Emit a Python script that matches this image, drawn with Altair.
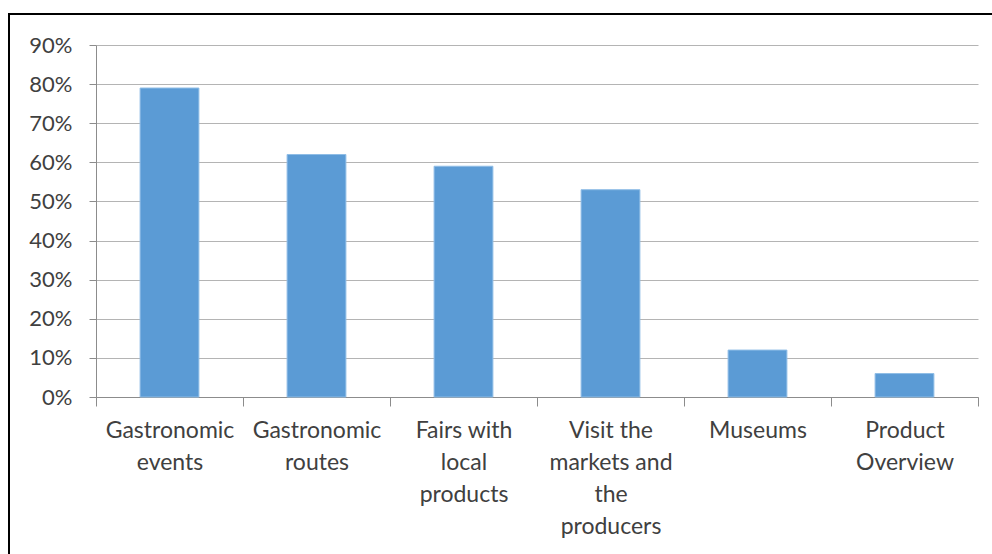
import altair as alt
import pandas as pd

# Activities and the share of respondents choosing each one
categories = [
    "Gastronomic\nevents",
    "Gastronomic\nroutes",
    "Fairs with\nlocal\nproducts",
    "Visit the\nmarkets and\nthe\nproducers",
    "Museums",
    "Product\nOverview",
]
shares = [0.79, 0.62, 0.59, 0.53, 0.12, 0.06]
y_ticks = [0.0, 0.1, 0.2, 0.3, 0.4, 0.5, 0.6, 0.7, 0.8, 0.9]

df = pd.DataFrame({"activity": categories, "share": shares})

FONT = "Lato"
TEXT = "#404040"
AXIS_GRAY = "#8c8c8c"
GRID_GRAY = "#b4b4b4"
BAR_BLUE = "#5b9bd5"

W, H = 882, 352

x_enc = alt.X(
    "activity:N",
    sort=categories,
    scale=alt.Scale(paddingInner=0, paddingOuter=0),
    axis=alt.Axis(
        title=None,
        labelAngle=0,
        labelExpr="split(datum.label, '\\n')",
        labelFont=FONT,
        labelFontSize=23,
        labelColor=TEXT,
        labelLineHeight=32,
        labelPadding=13,
        labelBaseline="top",
        tickBand="extent",
        tickSize=9,
        tickColor=AXIS_GRAY,
        domainColor=AXIS_GRAY,
        grid=False,
    ),
)

y_enc = alt.Y(
    "share:Q",
    scale=alt.Scale(domain=[0, 0.9], nice=False),
    axis=alt.Axis(
        title=None,
        values=y_ticks,
        format=".0%",
        labelFont=FONT,
        labelFontSize=22,
        labelColor=TEXT,
        labelPadding=17,
        tickSize=7,
        tickColor=AXIS_GRAY,
        domainColor=AXIS_GRAY,
        gridColor=GRID_GRAY,
        gridWidth=1,
    ),
)

bars = (
    alt.Chart(df)
    .mark_bar(
        color=BAR_BLUE,
        stroke="#8fbde6",
        strokeWidth=1,
        width=alt.RelativeBandSize(0.4),
    )
    .encode(x=x_enc, y=y_enc)
)

# Outer frame around the whole figure
frame = (
    alt.Chart(pd.DataFrame({"f": [0]}))
    .mark_rect(fill=None, stroke="black", strokeWidth=2, clip=False)
    .encode(
        x=alt.value(-87),
        x2=alt.value(W + 30),
        y=alt.value(-31),
        y2=alt.value(H + 180),
    )
)

chart = (
    alt.layer(bars, frame)
    .properties(
        width=W,
        height=H,
        autosize=alt.AutoSizeParams(type="none"),
        padding={"left": 96, "top": 45, "right": 14, "bottom": 157},
        background="white",
    )
    .configure_view(stroke=None)
)

chart.save("out.html", embed_options={"renderer": "svg", "actions": False})
